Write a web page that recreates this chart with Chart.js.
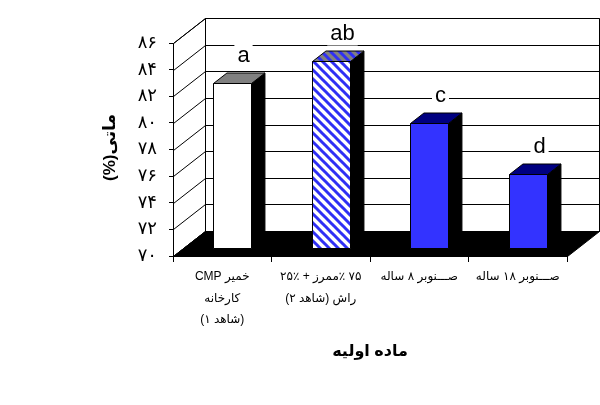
<!DOCTYPE html>
<html>
<head>
<meta charset="utf-8">
<script src="https://cdn.jsdelivr.net/npm/chart.js@4.4.1/dist/chart.umd.min.js"></script>
<style>
  html, body { margin: 0; padding: 0; background: #fff; }
  canvas { direction: rtl; }
</style>
</head>
<body>
<canvas id="chart" width="600" height="405"></canvas>
<script>
// Data
const categories = [
  ['خمیر CMP', 'کارخانه', '(شاهد ۱)'],
  ['۷۵ ٪ممرز + ٪۲۵', 'راش (شاهد ۲)'],
  'صـــنوبر ۸ ساله',
  'صـــنوبر ۱۸ ساله'
]
const opacity = [82.4, 84.1, 79.4, 75.6]
const groupLetters = ['a', 'ab', 'c', 'd']
const yTickLabels = ['۷۰', '۷۲', '۷۴', '۷۶', '۷۸', '۸۰', '۸۲', '۸۴', '۸۶']
const yTitle = 'ماتی(%)'
const xTitle = 'ماده اولیه'

const FONT = 'Arial, "Liberation Sans", "DejaVu Sans", sans-serif'

// 3D look, Excel style: full depth of the plot box and where bars sit in it
const DEPTH_X = 32
const DEPTH_Y = -25
const BAR_SHIFT = 0.31
const BAR_DEPTH = 0.42

function hatch(bg, fg) {
  const p = document.createElement('canvas')
  p.width = 9
  p.height = 9
  const c = p.getContext('2d')
  c.fillStyle = bg
  c.fillRect(0, 0, 9, 9)
  c.strokeStyle = fg
  c.lineWidth = 3
  for (const k of [-9, 0, 9]) {
    c.beginPath()
    c.moveTo(-1, -1 + k)
    c.lineTo(10, 10 + k)
    c.stroke()
  }
  return c.createPattern(p, 'repeat')
}

const frontColors = ['#ffffff', hatch('#ffffff', '#2f2ff5'), '#3333ff', '#3333ff']
const topColors = ['#808080', hatch('#808080', '#2f2ff5'), '#000080', '#000080']

function poly(ctx, pts, fill) {
  ctx.beginPath()
  ctx.moveTo(pts[0][0], pts[0][1])
  for (let i = 1; i < pts.length; i++) ctx.lineTo(pts[i][0], pts[i][1])
  ctx.closePath()
  if (fill) {
    ctx.fillStyle = fill
    ctx.fill()
  }
  ctx.stroke()
}

const box3d = {
  id: 'box3d',
  beforeDatasetsDraw(chart) {
    const { ctx, chartArea: a, scales } = chart
    const L = Math.round(a.left) + 0.5
    const R = Math.round(a.right) + 0.5
    const T = Math.round(a.top) + 0.5
    const B = Math.round(a.bottom) + 0.5
    ctx.save()
    ctx.strokeStyle = '#000'
    ctx.lineWidth = 1
    // left side wall and back wall
    poly(ctx, [[L, T], [L + DEPTH_X, T + DEPTH_Y], [L + DEPTH_X, B + DEPTH_Y], [L, B]], '#fff')
    poly(ctx, [[L + DEPTH_X, T + DEPTH_Y], [R + DEPTH_X, T + DEPTH_Y], [R + DEPTH_X, B + DEPTH_Y], [L + DEPTH_X, B + DEPTH_Y]], '#fff')
    // gridlines on both walls
    scales.y.ticks.forEach((t, i) => {
      const y = Math.round(scales.y.getPixelForTick(i)) + 0.5
      ctx.beginPath()
      ctx.moveTo(L, y)
      ctx.lineTo(L + DEPTH_X, y + DEPTH_Y)
      ctx.lineTo(R + DEPTH_X, y + DEPTH_Y)
      ctx.stroke()
    })
    // floor
    poly(ctx, [[L, B], [R, B], [R + DEPTH_X, B + DEPTH_Y], [L + DEPTH_X, B + DEPTH_Y]], '#000')
    ctx.restore()
  },
  afterDatasetsDraw(chart) {
    const { ctx, scales } = chart
    const meta = chart.getDatasetMeta(0)
    const sx = DEPTH_X * BAR_SHIFT
    const sy = DEPTH_Y * BAR_SHIFT
    const bx = DEPTH_X * BAR_DEPTH
    const by = DEPTH_Y * BAR_DEPTH
    const base = scales.y.getPixelForValue(scales.y.min)
    ctx.save()
    ctx.strokeStyle = '#000'
    ctx.lineWidth = 1
    meta.data.forEach((bar, i) => {
      const x0 = Math.round(bar.x - bar.width / 2 + sx) + 0.5
      const x1 = Math.round(bar.x + bar.width / 2 + sx) + 0.5
      const yT = Math.round(bar.y + sy) + 0.5
      const yB = Math.round(base + sy) + 0.5
      // side, top, front
      poly(ctx, [[x1, yT], [x1 + bx, yT + by], [x1 + bx, yB + by], [x1, yB]], '#000')
      poly(ctx, [[x0, yT], [x0 + bx, yT + by], [x1 + bx, yT + by], [x1, yT]], topColors[i])
      poly(ctx, [[x0, yT], [x1, yT], [x1, yB], [x0, yB]], frontColors[i])

      // significance letter with a white box behind it
      ctx.font = '22px ' + FONT
      ctx.direction = 'ltr'
      ctx.textAlign = 'center'
      ctx.textBaseline = 'alphabetic'
      const lx = (x0 + x1) / 2 + 11
      const ly = yT - 22
      const w = ctx.measureText(groupLetters[i]).width
      ctx.fillStyle = '#fff'
      ctx.fillRect(lx - w / 2 - 3, ly - 20, w + 6, 26)
      ctx.fillStyle = '#000'
      ctx.fillText(groupLetters[i], lx, ly)
    })
    ctx.restore()
  },
  afterDraw(chart) {
    const { ctx, chartArea: a } = chart
    ctx.save()
    ctx.fillStyle = '#000'
    ctx.direction = 'rtl'
    ctx.textAlign = 'center'
    ctx.textBaseline = 'middle'
    ctx.font = 'bold 16px ' + FONT
    ctx.fillText(xTitle, (a.left + a.right) / 2, 352)
    ctx.translate(110, (a.top + a.bottom) / 2 - 2)
    ctx.rotate(-Math.PI / 2)
    ctx.font = 'bold 17px ' + FONT
    ctx.fillText(yTitle, 0, 0)
    ctx.restore()
  }
}

new Chart(document.getElementById('chart'), {
  type: 'bar',
  data: {
    labels: categories,
    datasets: [{
      data: opacity,
      backgroundColor: 'transparent',
      borderWidth: 0,
      barPercentage: 0.386,
      categoryPercentage: 1
    }]
  },
  options: {
    responsive: false,
    animation: false,
    layout: { padding: { top: 43, right: 33, left: 0, bottom: 0 } },
    plugins: {
      legend: { display: false },
      tooltip: { enabled: false }
    },
    scales: {
      x: {
        offset: true,
        grid: { display: true, drawOnChartArea: false, tickLength: 6, color: '#000', offset: true },
        border: { display: true, color: '#000' },
        ticks: {
          color: '#000',
          autoSkip: false,
          maxRotation: 0,
          padding: 4,
          font: { family: FONT, size: 12, lineHeight: 1.8 }
        },
        afterFit: (s) => { s.height = 149 }
      },
      y: {
        min: 70,
        max: 86,
        grid: { display: true, drawOnChartArea: false, tickLength: 4, color: '#000' },
        border: { display: true, color: '#000' },
        ticks: {
          stepSize: 2,
          color: '#000',
          padding: 12,
          font: { family: FONT, size: 18 },
          callback: (v) => yTickLabels[(v - 70) / 2]
        },
        afterFit: (s) => { s.width = 173 }
      }
    }
  },
  plugins: [box3d]
})
</script>
</body>
</html>
